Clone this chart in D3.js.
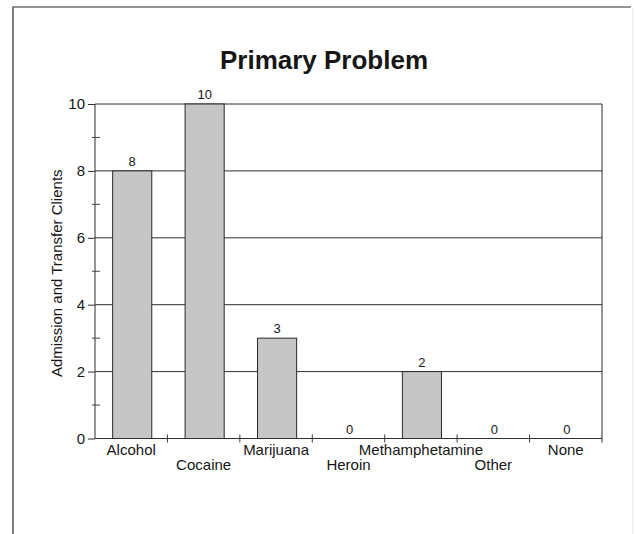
<!DOCTYPE html>
<html>
<head>
<meta charset="utf-8">
<script src="https://cdn.jsdelivr.net/npm/d3@7"></script>
<style>
  html, body { margin: 0; padding: 0; background: #fff; }
  svg { display: block; }
  text { font-family: "Liberation Sans", Arial, sans-serif; }
</style>
</head>
<body>
<svg id="chart" width="636" height="534"></svg>
<script>
// Primary problem reported by admission and transfer clients
const categories = ["Alcohol", "Cocaine", "Marijuana", "Heroin", "Methamphetamine", "Other", "None"];
const clients = [8, 10, 3, 0, 2, 0, 0];
const yTicks = [0, 2, 4, 6, 8, 10];
const yMinorTicks = [1, 3, 5, 7, 9];

const ink = "#161616";
const svg = d3.select("#chart");
const W = 636, H = 534;
const plot = { left: 95, right: 602, top: 104, bottom: 438.5 };

svg.append("rect").attr("width", W).attr("height", H).attr("fill", "#fff");

// page frame
svg.append("path")
  .attr("d", "M13,534 L13,7 L631,7")
  .attr("fill", "none").attr("stroke", "#2a2a2a").attr("stroke-width", 1.2);
svg.append("line")
  .attr("x1", 633).attr("x2", 633).attr("y1", 8).attr("y2", 534)
  .attr("stroke", "#e4e4e4").attr("stroke-width", 1);

const x = d3.scaleBand().domain(categories).range([plot.left, plot.right]).padding(0);
const y = d3.scaleLinear().domain([0, 10]).range([plot.bottom, plot.top]);

// title
svg.append("text")
  .attr("x", 324).attr("y", 69)
  .attr("text-anchor", "middle")
  .attr("fill", ink)
  .style("font-size", "26px").style("font-weight", "bold")
  .text("Primary Problem");

// horizontal gridlines
svg.append("g").selectAll("line")
  .data(yTicks.filter(d => d > 0))
  .join("line")
  .attr("x1", plot.left).attr("x2", plot.right)
  .attr("y1", d => y(d)).attr("y2", d => y(d))
  .attr("stroke", "#2e2e2e").attr("stroke-width", 1);

// right border of plot area
svg.append("line")
  .attr("x1", plot.right).attr("x2", plot.right)
  .attr("y1", plot.top).attr("y2", plot.bottom + 4)
  .attr("stroke", "#2e2e2e").attr("stroke-width", 1);

// y axis with major ticks
const yAxis = d3.axisLeft(y).tickValues(yTicks).tickSize(7).tickPadding(3).tickFormat(d3.format("d"));
const gy = svg.append("g").attr("transform", `translate(${plot.left},0)`).call(yAxis);
gy.attr("font-family", null).attr("font-size", null);
gy.select(".domain").attr("stroke", "#2e2e2e").attr("d", `M0,${plot.top}V${plot.bottom}`);
gy.selectAll(".tick line").attr("stroke", "#2e2e2e");
gy.selectAll(".tick text")
  .style("font-size", "15px").attr("fill", ink);

// minor y ticks crossing the axis
svg.append("g").selectAll("line")
  .data(yMinorTicks)
  .join("line")
  .attr("x1", plot.left - 3).attr("x2", plot.left + 5)
  .attr("y1", d => y(d)).attr("y2", d => y(d))
  .attr("stroke", "#444").attr("stroke-width", 1);

// y axis title
svg.append("text")
  .attr("transform", `translate(62,${(plot.top + plot.bottom) / 2 + 2}) rotate(-90)`)
  .attr("text-anchor", "middle")
  .attr("fill", ink)
  .style("font-size", "15px")
  .text("Admission and Transfer Clients");

// bars
const barW = x.bandwidth() * 0.54;
const data = categories.map((c, i) => ({ cat: c, val: clients[i], i }));
svg.append("g").selectAll("rect")
  .data(data.filter(d => d.val > 0))
  .join("rect")
  .attr("x", d => x(d.cat) + (x.bandwidth() - barW) / 2 + 1)
  .attr("y", d => y(d.val))
  .attr("width", barW)
  .attr("height", d => y(0) - y(d.val))
  .attr("fill", "#c6c6c6")
  .attr("stroke", "#2a2a2a").attr("stroke-width", 1);

// x axis baseline
svg.append("line")
  .attr("x1", plot.left).attr("x2", plot.right)
  .attr("y1", plot.bottom).attr("y2", plot.bottom)
  .attr("stroke", "#2e2e2e").attr("stroke-width", 1);

// x ticks at category boundaries
const bounds = categories.slice(1).map(c => x(c));
svg.append("g").selectAll("line")
  .data(bounds)
  .join("line")
  .attr("x1", d => d).attr("x2", d => d)
  .attr("y1", plot.bottom - 4).attr("y2", plot.bottom + 4)
  .attr("stroke", "#3a3a3a").attr("stroke-width", 1);

// category labels, staggered on two rows
svg.append("g").selectAll("text")
  .data(data)
  .join("text")
  .attr("x", d => x(d.cat) + x.bandwidth() / 2)
  .attr("y", d => d.i % 2 === 0 ? 455 : 470)
  .attr("text-anchor", "middle")
  .attr("fill", ink)
  .style("font-size", "15px")
  .text(d => d.cat);

// value labels above bars
svg.append("g").selectAll("text")
  .data(data)
  .join("text")
  .attr("x", d => x(d.cat) + x.bandwidth() / 2 + 1)
  .attr("y", d => y(d.val) - 5)
  .attr("text-anchor", "middle")
  .attr("fill", ink)
  .style("font-size", "13px")
  .text(d => d.val);
</script>
</body>
</html>
